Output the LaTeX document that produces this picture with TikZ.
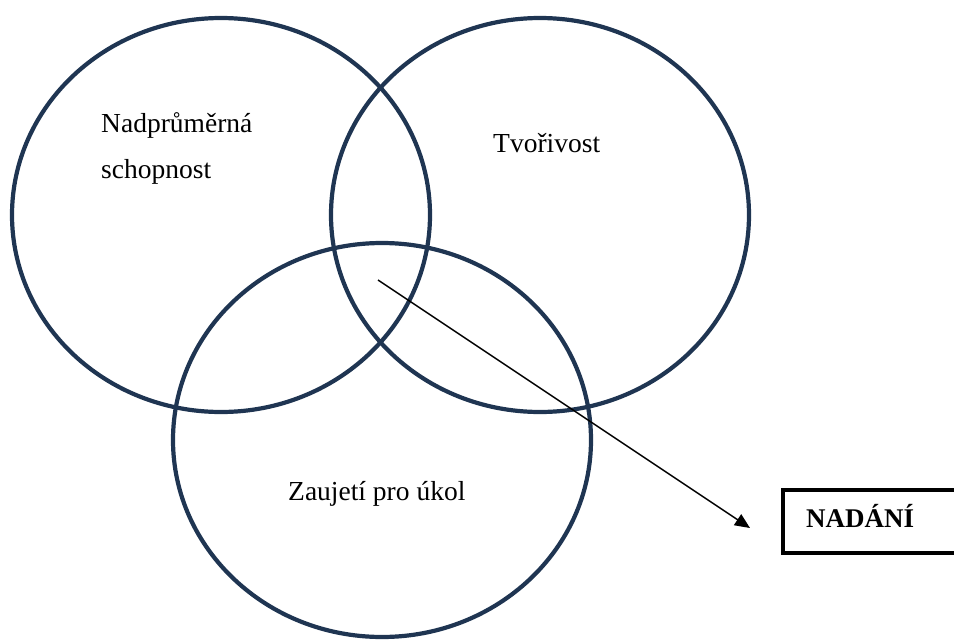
\documentclass[tikz,border=0pt]{standalone}
\usepackage{fontspec}
\setmainfont{Liberation Serif}
\usetikzlibrary{arrows.meta}
\definecolor{navy}{HTML}{1F3552}
\tikzset{
  venn/.style={draw=navy, line width=4.2pt},
  lbl/.style={font=\fontsize{27.5}{46}\selectfont, inner sep=0pt, anchor=base west},
  boxlbl/.style={draw=black, line width=4pt, inner sep=0pt},
}
\begin{document}
\begin{tikzpicture}[x=1pt,y=-1pt]
\useasboundingbox (0,0) rectangle (954,640);
\draw[venn] (221,215) ellipse [x radius=209, y radius=197];
\draw[venn] (540,215) ellipse [x radius=209, y radius=197];
\draw[venn] (382,440) ellipse [x radius=209, y radius=197];
\node[lbl] (n1) at (101,132) {Nadprůměrná};
\node[lbl] (n2) at (101,178) {schopnost};
\node[lbl] (t) at (493,152) {Tvořivost};
\node[lbl] (z) at (288,500) {Zaujetí pro úkol};
\node[boxlbl, minimum width=190pt, minimum height=63pt] (box) at (878,521.5) {};
\node[lbl, font=\fontsize{27}{32}\selectfont\bfseries] (nad) at (806,527) {NADÁNÍ};
\coordinate (a) at (378,280);
\coordinate (b) at (750,528);
\draw[line width=1.4pt, -{Triangle[length=15pt,width=13pt]}] (a) -- (b);
\end{tikzpicture}
\end{document}
